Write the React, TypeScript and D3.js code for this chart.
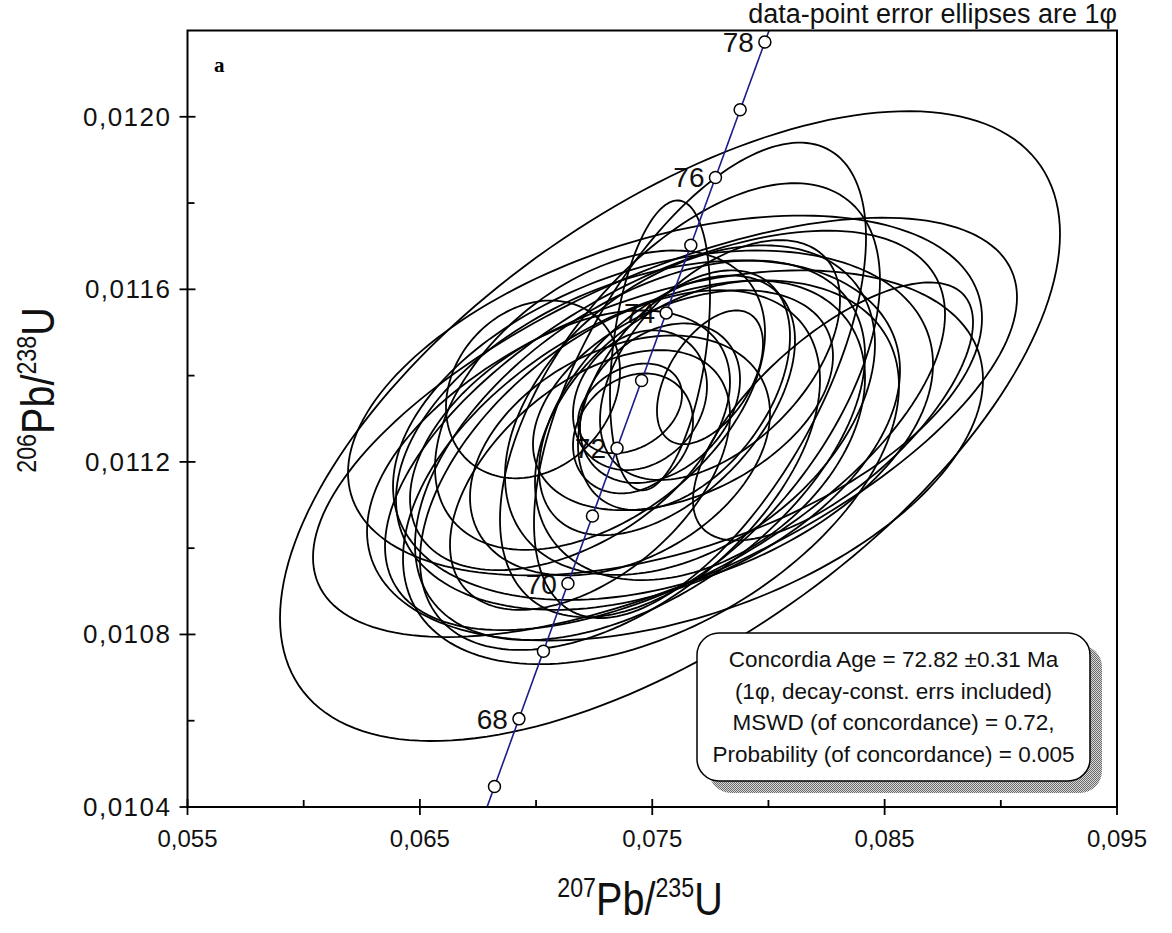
import React from 'react';
import * as d3 from 'd3';

// Axis ticks
const xTicks = [0.055, 0.065, 0.075, 0.085, 0.095];
const xTickLabels = ['0,055', '0,065', '0,075', '0,085', '0,095'];
const xMinorTicks = [0.06, 0.07, 0.08, 0.09];
const yTicks = [0.0104, 0.0108, 0.0112, 0.0116, 0.012];
const yTickLabels = ['0,0104', '0,0108', '0,0112', '0,0116', '0,0120'];
const yMinorTicks = [0.0106, 0.011, 0.0114, 0.0118];

// Concordia age markers (Ma)
const markerAges = [67, 68, 69, 70, 71, 72, 73, 74, 75, 76, 77, 78];
const labelledAges = [68, 70, 72, 74, 76, 78];

// Spot analyses: 207Pb/235U, 1s, 206Pb/238U, 1s, error correlation
const r207_235 = [0.075764, 0.075549, 0.077055, 0.075549, 0.075979, 0.075549, 0.075463, 0.074817, 0.074946, 0.074473,
  0.076624, 0.073612, 0.076624, 0.077055, 0.082779, 0.072752, 0.069868, 0.076366, 0.075635, 0.076323,
  0.071461, 0.073612, 0.077916, 0.072321, 0.075334, 0.077485, 0.074042, 0.074172, 0.075334, 0.074473];
const s207_235 = [0.016783, 0.015148, 0.007144, 0.013642, 0.013254, 0.01205, 0.011619, 0.010845, 0.010672, 0.009683,
  0.008176, 0.008607, 0.007961, 0.007101, 0.006025, 0.007101, 0.003744, 0.004562, 0.005508, 0.006455,
  0.006885, 0.006455, 0.005164, 0.006025, 0.002152, 0.002281, 0.002238, 0.002582, 0.003443, 0.002883];
const r206_238 = [0.011283, 0.01128, 0.011389, 0.011354, 0.011215, 0.011273, 0.011285, 0.011262, 0.011176, 0.011227,
  0.011343, 0.011181, 0.01132, 0.011273, 0.011317, 0.011343, 0.011368, 0.011366, 0.011331, 0.011343,
  0.01125, 0.011215, 0.011436, 0.011158, 0.01147, 0.011396, 0.011324, 0.011266, 0.011336, 0.011343];
const s206_238 = [0.00073, 0.000486, 0.000551, 0.000417, 0.000429, 0.000463, 0.000405, 0.000405, 0.000445, 0.00044,
  0.000503, 0.000417, 0.000382, 0.000347, 0.000299, 0.000347, 0.000206, 0.000278, 0.000301, 0.000255,
  0.000301, 0.000278, 0.000278, 0.000301, 0.000336, 0.000155, 0.000104, 0.000139, 0.000185, 0.000162];
const rhos = [0.61, 0.62, 0.6, 0.43, 0.41, 0.58, 0.35, 0.37, 0.45, 0.5,
  0.55, 0.5, 0.4, 0.35, 0.69, 0.45, 0.2, 0.45, 0.5, 0.4,
  0.45, 0.35, 0.5, 0.5, 0.35, 0.5, 0.3, 0.2, 0.3, 0.2];

const infoLines = [
  'Concordia Age = 72.82 \u00b10.31 Ma',
  '(1\u03c6, decay-const. errs included)',
  'MSWD (of concordance) = 0.72,',
  'Probability (of concordance) = 0.005',
];

const LAMBDA_235 = 9.8485e-10;
const LAMBDA_238 = 1.55125e-10;
const conc207 = (ma: number) => Math.expm1(LAMBDA_235 * ma * 1e6);
const conc206 = (ma: number) => Math.expm1(LAMBDA_238 * ma * 1e6);

const W = 1172;
const H = 933;
const left = 187.5, right = 1117, top = 30.5, bottom = 807;
const FONT = '"Liberation Sans", Arial, sans-serif';

function RatioTitle({ a, b }: { a: string; b: string }) {
  return (
    <>
      <tspan fontSize={27} dy={-18}>{a}</tspan>
      <tspan dy={18}>Pb/</tspan>
      <tspan fontSize={27} dy={-18}>{b}</tspan>
      <tspan dy={18}>U</tspan>
    </>
  );
}

export default function App() {
  const x = d3.scaleLinear().domain([0.055, 0.095]).range([left, right]);
  const y = d3.scaleLinear().domain([0.0104, 0.0122]).range([bottom, top]);

  const line = d3.line<[number, number]>().x((d) => x(d[0])).y((d) => y(d[1]));
  const closed = d3.line<[number, number]>().x((d) => x(d[0])).y((d) => y(d[1])).curve(d3.curveLinearClosed);

  const steps = d3.range(0, 2 * Math.PI, Math.PI / 90);
  const ellipses = r207_235.map((cx, i) => {
    const sx = s207_235[i], cy = r206_238[i], sy = s206_238[i], r = rhos[i];
    const k = Math.sqrt(1 - r * r);
    const pts: [number, number][] = steps.map((t) => [
      cx + sx * Math.cos(t),
      cy + sy * (r * Math.cos(t) + k * Math.sin(t)),
    ]);
    return closed(pts) as string;
  });

  const concPts: [number, number][] = d3.range(66.4, 78.8, 0.05).map((t) => [conc207(t), conc206(t)]);

  return (
    <svg width={W} height={H} style={{ position: 'absolute', left: 0, top: 0, background: '#fff' }}
      fontFamily={FONT}>
      <defs>
        <clipPath id="plotClip">
          <rect x={left} y={top} width={right - left} height={bottom - top} />
        </clipPath>
        <pattern id="stipple" width="2" height="2" patternUnits="userSpaceOnUse">
          <rect width="2" height="2" fill="#d8d8d8" />
          <rect width="1" height="1" fill="#6a6a6a" />
          <rect x="1" y="1" width="1" height="1" fill="#6a6a6a" />
        </pattern>
      </defs>
      <rect width={W} height={H} fill="#fff" />

      {/* age labels beside the concordia */}
      <g fontSize={28} fill="#111" textAnchor="end">
        {labelledAges.map((a) => (
          <text key={a} x={x(conc207(a)) - 11} y={y(conc206(a)) + 10}>{a}</text>
        ))}
      </g>

      {/* error ellipses */}
      <g clipPath="url(#plotClip)" fill="none" stroke="#000" strokeWidth={1.8}>
        {ellipses.map((d, i) => <path key={i} d={d} />)}
      </g>

      {/* concordia curve */}
      <g clipPath="url(#plotClip)">
        <path d={line(concPts) as string} fill="none" stroke="#1c1c8a" strokeWidth={1.6} />
      </g>
      <g fill="#fff" stroke="#000" strokeWidth={1.5}>
        {markerAges.map((a) => (
          <circle key={a} cx={x(conc207(a))} cy={y(conc206(a))} r={6} />
        ))}
      </g>

      {/* frame */}
      <rect x={left} y={top} width={right - left} height={bottom - top} fill="none" stroke="#000" strokeWidth={2} />

      {/* ticks */}
      <g stroke="#000" strokeWidth={1.8}>
        {xTicks.map((t) => <line key={t} x1={x(t)} x2={x(t)} y1={bottom - 8} y2={bottom + 8} />)}
        {xMinorTicks.map((t) => <line key={t} x1={x(t)} x2={x(t)} y1={bottom - 7} y2={bottom} />)}
        {yTicks.map((t) => <line key={t} x1={left - 8} x2={left + 8} y1={y(t)} y2={y(t)} />)}
        {yMinorTicks.map((t) => <line key={t} x1={left} x2={left + 7} y1={y(t)} y2={y(t)} />)}
      </g>
      <g fontSize={24} fill="#111" textAnchor="middle">
        {xTicks.map((t, i) => (
          <text key={t} x={x(t)} y={bottom + 40}>{xTickLabels[i]}</text>
        ))}
      </g>
      <g fontSize={26} fill="#111" textAnchor="end" letterSpacing={1.5}>
        {yTicks.map((t, i) => (
          <text key={t} x={left - 16} y={y(t) + 9}>{yTickLabels[i]}</text>
        ))}
      </g>

      {/* axis titles */}
      <text transform="translate(640,915) scale(0.86,1)" fontSize={46} textAnchor="middle" fill="#111">
        <RatioTitle a="207" b="235" />
      </text>
      <text transform="translate(54,390) rotate(-90) scale(0.86,1)" fontSize={46} textAnchor="middle" fill="#111">
        <RatioTitle a="206" b="238" />
      </text>

      {/* panel letter and caption */}
      <text x={214} y={72} fontFamily='"Liberation Serif", "Times New Roman", serif' fontWeight="bold" fontSize={21}>a</text>
      <text x={right} y={23} fontSize={27} textAnchor="end" fill="#111">{'data-point error ellipses are 1\u03c6'}</text>

      {/* result box */}
      <rect x={709} y={645} width={393} height={148} rx={22} fill="url(#stipple)" />
      <rect x={697} y={633} width={393} height={148} rx={22} fill="#fff" stroke="#000" strokeWidth={1.5} />
      <g fontSize={22.5} fill="#111" textAnchor="middle">
        {infoLines.map((s, i) => (
          <text key={i} x={893.5} y={667 + i * 31.7}>{s}</text>
        ))}
      </g>
    </svg>
  );
}
